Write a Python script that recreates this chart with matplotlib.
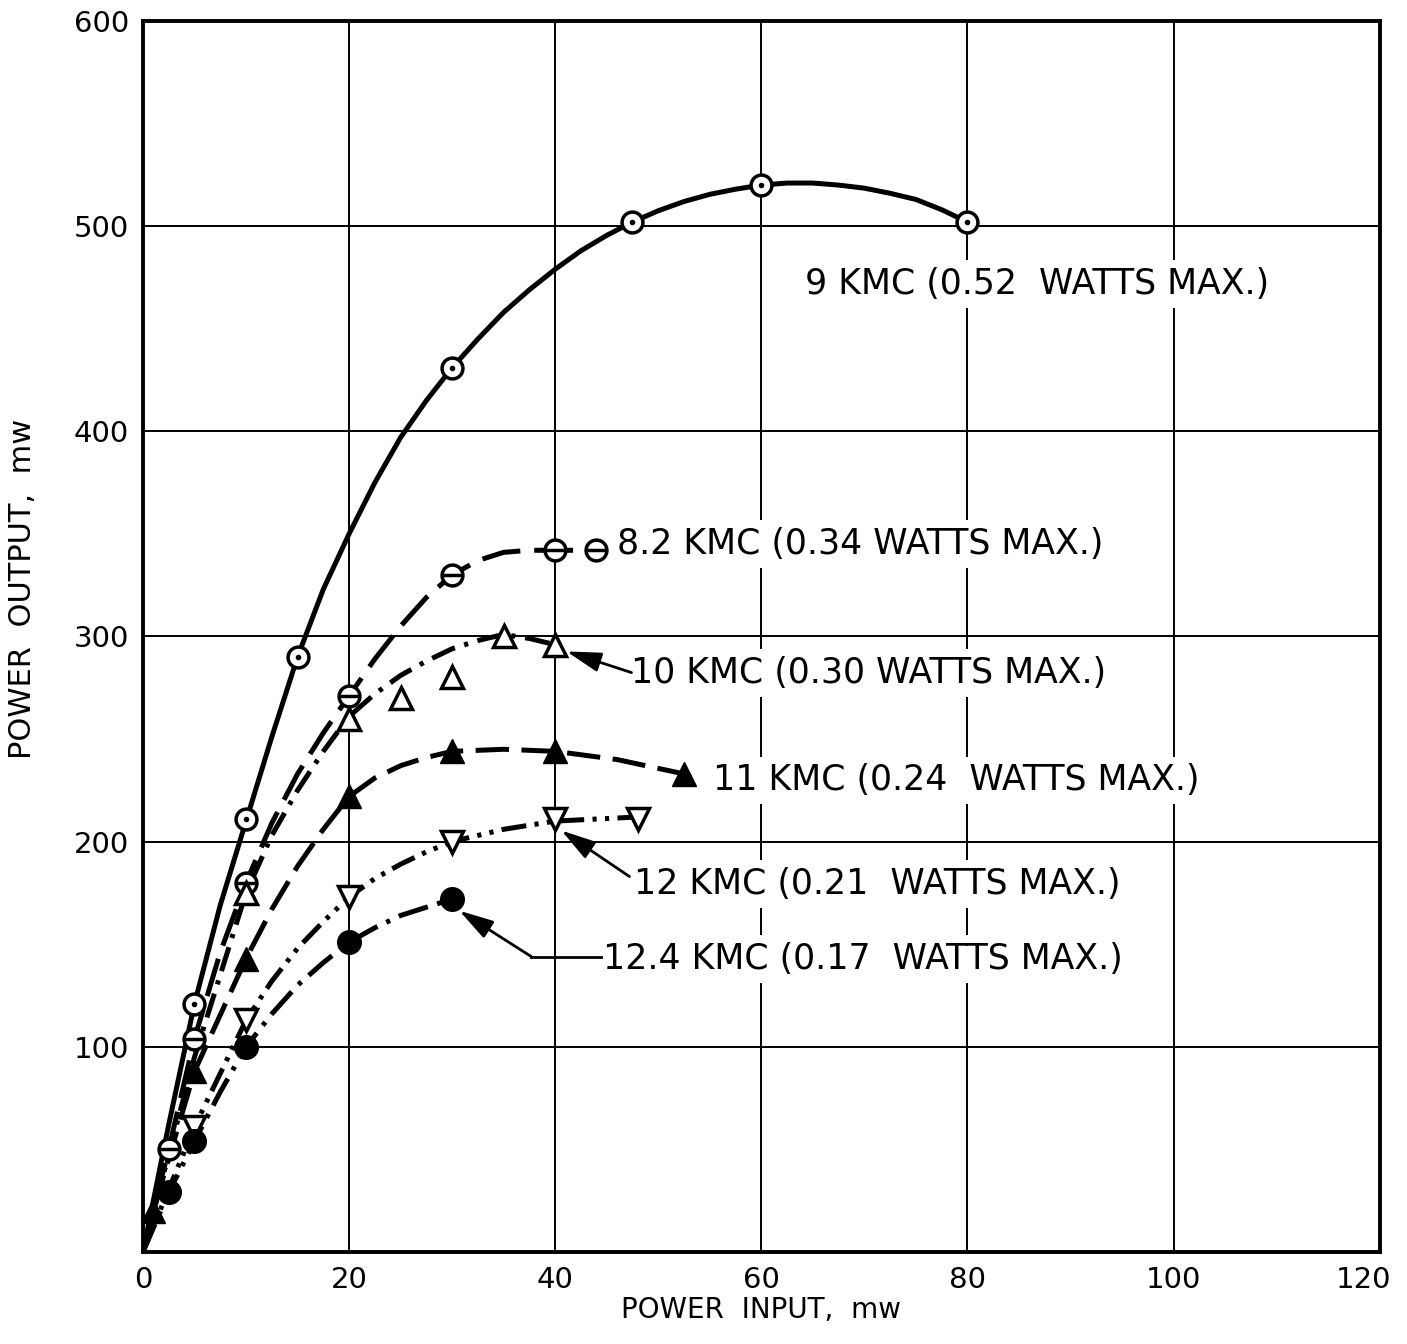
import matplotlib.pyplot as plt
from matplotlib.transforms import ScaledTranslation

plt.rcParams['font.family'] = 'DejaVu Sans'
plt.rcParams['lines.scale_dashes'] = False

# measured points, power input (mw) vs power output (mw)
x_9 = [5, 10, 15, 30, 47.5, 60, 80]
y_9 = [121, 211, 290, 431, 502, 520, 502]
x_82 = [2.5, 5, 10, 20, 30, 40, 44]
y_82 = [50, 104, 180, 271, 330, 342, 342]
x_10 = [10, 20, 25, 30, 35, 40]
y_10 = [175, 260, 270, 280, 300, 296]
x_11 = [1, 5, 10, 20, 30, 40, 52.5]
y_11 = [20, 88, 143, 222, 244, 244, 233]
x_12 = [5, 10, 20, 30, 40, 48]
y_12 = [61, 113, 173, 200, 211, 211]
x_124 = [2.5, 5, 10, 20, 30]
y_124 = [29, 54, 100, 151, 172]

# faired curves drawn through each set
cx_9 = [0, 2.5, 5, 7.5, 10, 12.5, 15, 17.5, 20, 22.5, 25, 27.5, 30, 32.5, 35, 37.5,
        40, 42.5, 45, 47.5, 50, 52.5, 55, 57.5, 60, 62.5, 65, 67.5, 70, 72.5, 75,
        77.5, 80]
cy_9 = [0, 62, 121, 169, 210, 251, 290, 323, 350, 375, 397, 415, 431, 445, 458, 469,
        479, 488, 495.5, 502, 507.5, 512, 515.5, 518, 520, 521, 521, 520, 518.5, 516,
        513, 508, 502]
cx_82 = [0, 2.5, 5, 7.5, 10, 12.5, 15, 17.5, 20, 22.5, 25, 27.5, 30, 32.5, 35, 37.5, 40, 44]
cy_82 = [0, 50, 104, 146, 180, 209, 233, 253, 271, 289, 305, 319, 330, 337, 341, 342, 342, 342]
cx_10 = [0, 5, 10, 12.5, 15, 17.5, 20, 22.5, 25, 27.5, 30, 32.5, 35, 37.5, 40]
cy_10 = [0, 95, 175, 203, 225, 244, 261, 272, 281, 288, 294, 298, 301, 299, 296]
cx_11 = [0, 1, 5, 10, 12.5, 15, 17.5, 20, 22.5, 25, 27.5, 30, 35, 40, 46, 52.5]
cy_11 = [0, 20, 88, 143, 167, 188, 206, 222, 231, 237, 241, 244, 245, 244, 240, 233]
cx_12 = [0, 5, 10, 12.5, 15, 17.5, 20, 22.5, 25, 27.5, 30, 35, 40, 48]
cy_12 = [0, 61, 113, 132, 148, 161, 173, 182, 189, 195, 200, 206, 210, 212]
cx_124 = [0, 2.5, 5, 7.5, 10, 12.5, 15, 17.5, 20, 22.5, 25, 27.5, 30]
cy_124 = [0, 29, 54, 78, 100, 116, 130, 141, 151, 158, 164, 168, 172]

labels = ['9 KMC (0.52  WATTS MAX.)', '8.2 KMC (0.34 WATTS MAX.)',
          '10 KMC (0.30 WATTS MAX.)', '11 KMC (0.24  WATTS MAX.)',
          '12 KMC (0.21  WATTS MAX.)', '12.4 KMC (0.17  WATTS MAX.)']
label_x = [64.2, 46.0, 47.4, 55.3, 47.6, 44.6]
label_y = [471.7, 344.9, 282.4, 229.8, 179.5, 142.9]

fig = plt.figure(figsize=(14.07, 13.44), dpi=100)
ax = fig.add_axes([0.1016, 0.0685, 0.879, 0.9159])

lw = 3.6
ax.plot(cx_9, cy_9, c='black', lw=lw, solid_joinstyle='round')
ax.plot(cx_82, cy_82, c='black', lw=lw, ls=(0, (28, 10)))
ax.plot(cx_10, cy_10, c='black', lw=lw, ls=(0, (18, 7, 3, 7)))
ax.plot(cx_11, cy_11, c='black', lw=lw, ls=(0, (24, 9)))
ax.plot(cx_12, cy_12, c='black', lw=lw, ls=(0, (18, 6, 3, 6, 3, 6)))
ax.plot(cx_124, cy_124, c='black', lw=lw, ls=(0, (22, 7, 3, 7)))

# markers
ax.plot(x_9, y_9, 'o', ms=15, mfc='white', mec='black', mew=2.5, zorder=4, clip_on=False)
ax.plot(x_9, y_9, 'o', ms=3, mfc='black', mec='black', zorder=5, clip_on=False)
ax.plot(x_82, y_82, 'o', ms=15, mfc='white', mec='black', mew=2.5, zorder=4, clip_on=False)
ax.plot(x_82, y_82, '_', ms=14, mec='black', mew=2.5, zorder=5, clip_on=False)
ax.plot(x_10, y_10, '^', ms=16, mfc='white', mec='black', mew=2.5, zorder=4, clip_on=False)
ax.plot(x_11, y_11, '^', ms=17, mfc='black', mec='black', mew=1, zorder=4, clip_on=False)
ax.plot(x_12, y_12, 'v', ms=16, mfc='white', mec='black', mew=2.5, zorder=4, clip_on=False)
ax.plot(x_124, y_124, 'o', ms=17, mfc='black', mec='black', mew=1, zorder=4, clip_on=False)

for lab, tx, ty in zip(labels, label_x, label_y):
    ax.text(tx, ty, lab, fontsize=25, ha='left', va='center', zorder=6,
            bbox=dict(facecolor='white', edgecolor='none', pad=5))

arrow = dict(arrowstyle='-|>,head_length=0.7,head_width=0.2', color='black', lw=2,
             mutation_scale=30, shrinkA=0, shrinkB=0)
ax.annotate('', xy=(41.1, 292.7), xytext=(47.4, 282.4), arrowprops=arrow, zorder=7)
ax.annotate('', xy=(40.6, 205.4), xytext=(47.2, 183), arrowprops=arrow, zorder=7)
ax.plot([37.7, 44.4], [143.9, 143.9], c='black', lw=2, zorder=7)
ax.annotate('', xy=(30.7, 166.3), xytext=(37.7, 143.9), arrowprops=arrow, zorder=7)

ax.set_xlim(0, 120)
ax.set_ylim(0, 600)
ax.set_xticks([0, 20, 40, 60, 80, 100, 120])
ax.set_yticks([100, 200, 300, 400, 500, 600])
ax.tick_params(length=0, pad=10, labelsize=21)
ax.grid(True, color='black', lw=1.4)
ax.set_axisbelow(True)
for s in ax.spines.values():
    s.set_linewidth(2.8)

# pull the last x label in from the figure edge
last = ax.get_xticklabels()[-1]
last.set_transform(last.get_transform() + ScaledTranslation(-0.16, 0, fig.dpi_scale_trans))

ax.set_xlabel('POWER  INPUT,  mw', fontsize=20, va='center')
ax.xaxis.set_label_coords(0.5, -0.0475)
ax.set_ylabel('POWER  OUTPUT,  mw', fontsize=22, va='center')
ax.yaxis.set_label_coords(-0.097, 0.539)

plt.savefig('out.png')
